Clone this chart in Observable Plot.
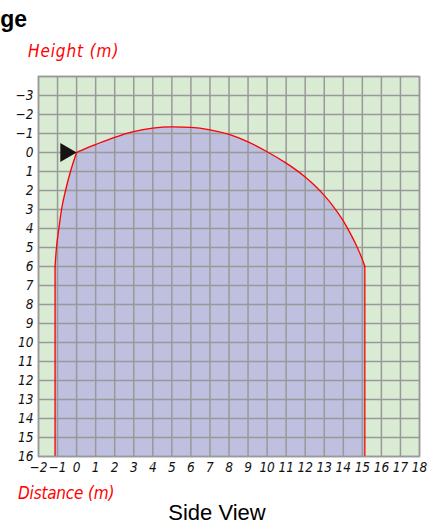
<!DOCTYPE html>
<html>
<head>
<meta charset="utf-8">
<script src="https://cdn.jsdelivr.net/npm/d3@7"></script>
<script src="https://cdn.jsdelivr.net/npm/@observablehq/plot@0.6"></script>
<style>
  html, body { margin: 0; padding: 0; background: #fff; }
  #wrap { position: relative; width: 438px; height: 529px; overflow: hidden; }
  #chart { position: absolute; left: 0; top: 0; }
  .t { position: absolute; white-space: nowrap; z-index: 2; }
  #title { font: bold 23px "Liberation Sans", Arial, sans-serif; right: 411px; top: 6px; }
  #sub { font: 22px "Liberation Sans", Arial, sans-serif; left: 0; width: 434px; text-align: center; top: 500px; }
  .ax { color: #ff0000; font: italic 17px "DejaVu Sans Condensed", "DejaVu Sans", sans-serif; }
  #ylab { left: 28px; top: 41px; letter-spacing: 0.9px; }
  #xlab { left: 18px; top: 483px; letter-spacing: -0.2px; }
  svg text { font-family: "DejaVu Sans Condensed", "DejaVu Sans", sans-serif; font-style: italic; }
</style>
</head>
<body>
<div id="wrap">
  <div id="chart"></div>
  <div id="title" class="t">ge</div>
  <div id="ylab" class="t ax">Height (m)</div>
  <div id="xlab" class="t ax">Distance (m)</div>
  <div id="sub" class="t">Side View</div>
</div>
<script>
// Tick values
const xTicks = d3.range(-2, 19);
const yTicks = d3.range(-3, 17);
const gridXVals = d3.range(-2, 19);
const gridYVals = d3.range(-4, 17);

// Left flank of the trajectory (ground contact up to launch point)
const leftX = [-1.13, -1.06, -0.93, -0.79, -0.58, -0.32, 0];
const leftY = [6, 5.05, 4, 3, 2, 1, 0];

// Top arc of the trajectory
const arcX = [0, 0.5, 1, 2, 3, 4, 5, 6, 7, 8, 9, 10, 11, 11.5, 12, 12.5, 13, 13.5, 14, 14.4, 14.7, 14.9, 15.05, 15.13];
const arcY = [0, -0.22, -0.42, -0.8, -1.1, -1.28, -1.35, -1.32, -1.19, -0.95, -0.56, -0.04, 0.56, 0.9, 1.29, 1.74, 2.26, 2.87, 3.6, 4.32, 4.92, 5.38, 5.76, 6.0];

// Vertical drops to the ground line
const wallX = [-1.13, 15.13];
const wallTop = [6, 6];
const ground = 16;

// Launch marker
const markerX = [-0.57];
const markerY = [0];

const leftPts = leftX.map((x, i) => ({x, y: leftY[i]}));
const arcPts = arcX.map((x, i) => ({x, y: arcY[i]}));
const walls = wallX.map((x, i) => ({x, y1: wallTop[i], y2: ground}));
const markerPts = markerX.map((x, i) => ({x, y: markerY[i]}));
const fmt = d => String(d).replace("-", "\u2212");

const plot = Plot.plot({
  width: 438,
  height: 529,
  marginLeft: 38,
  marginRight: 19,
  marginTop: 76,
  marginBottom: 73,
  x: {domain: [-2, 18], ticks: xTicks, tickSize: 0, tickPadding: 6, label: null, tickFormat: fmt},
  y: {domain: [-4, 16], reverse: true, ticks: yTicks, tickSize: 0, tickPadding: 5, label: null, tickFormat: fmt},
  style: {fontSize: "13.5px", color: "#111", background: "transparent"},
  marks: [
    Plot.frame({fill: "#d9ebd3", stroke: null}),
    Plot.areaY(leftPts, {x: "x", y1: ground, y2: "y", fill: "#bfc0df", curve: "monotone-x"}),
    Plot.areaY(arcPts, {x: "x", y1: ground, y2: "y", fill: "#bfc0df", curve: "monotone-x"}),
    Plot.gridX(gridXVals, {stroke: "#999", strokeOpacity: 1, strokeWidth: 1.5}),
    Plot.gridY(gridYVals, {stroke: "#999", strokeOpacity: 1, strokeWidth: 1.5}),
    Plot.line(leftPts, {x: "x", y: "y", stroke: "#ff0000", strokeWidth: 1.3, curve: "monotone-x"}),
    Plot.line(arcPts, {x: "x", y: "y", stroke: "#ff0000", strokeWidth: 1.3, curve: "monotone-x"}),
    Plot.ruleX(walls, {x: "x", y1: "y1", y2: "y2", stroke: "#ff0000", strokeWidth: 1.3}),
    Plot.dot(markerPts, {x: "x", y: "y", symbol: "triangle", rotate: 90, r: 7, fill: "#161412", stroke: null}),
    Plot.frame({stroke: "#999", strokeWidth: 1.5})
  ]
});
document.getElementById("chart").appendChild(plot);
</script>
</body>
</html>
